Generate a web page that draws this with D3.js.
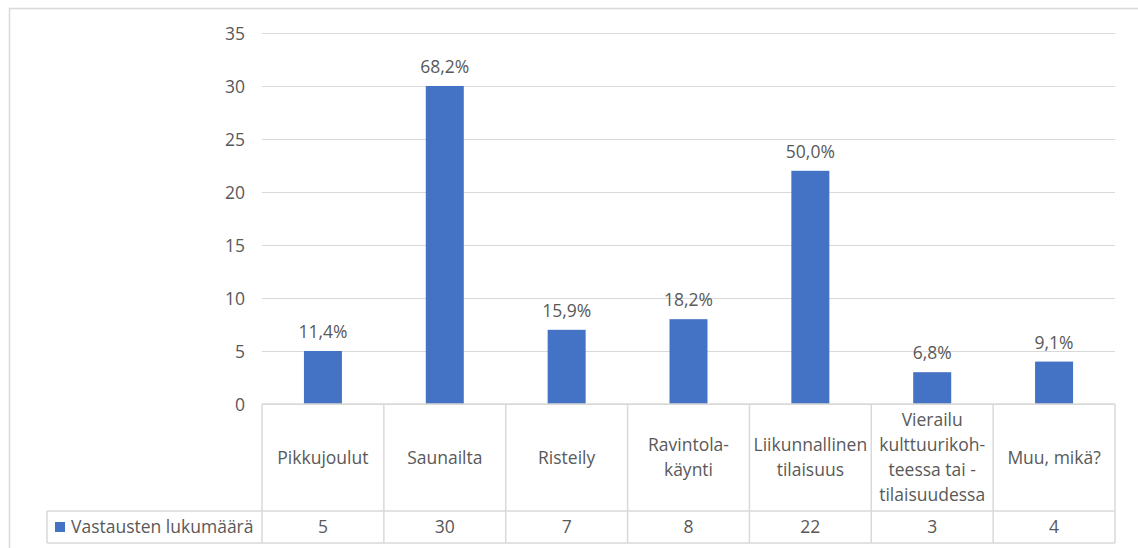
<!DOCTYPE html>
<html>
<head>
<meta charset="utf-8">
<script src="https://cdn.jsdelivr.net/npm/d3@7"></script>
<style>
  html, body { margin: 0; padding: 0; background: #fff; }
  svg text { font-family: "Open Sans", "Noto Sans", sans-serif; fill: #595959; }
</style>
</head>
<body>
<svg id="chart" width="1138" height="548"></svg>
<script>
// Column values, one per activity
const categories = [
  ["Pikkujoulut"],
  ["Saunailta"],
  ["Risteily"],
  ["Ravintola-", "käynti"],
  ["Liikunnallinen", "tilaisuus"],
  ["Vierailu", "kulttuurikoh-", "teessa tai -", "tilaisuudessa"],
  ["Muu, mikä?"]
];
const counts = [5, 30, 7, 8, 22, 3, 4];
const percentLabels = ["11,4%", "68,2%", "15,9%", "18,2%", "50,0%", "6,8%", "9,1%"];
const yTicks = [0, 5, 10, 15, 20, 25, 30, 35];
const seriesName = "Vastausten lukumäärä";

const svg = d3.select("#chart");
const grid = "#d9d9d9";
const barColor = "#4472c4";
const fs = 17.5;

// Outer chart frame
svg.append("rect")
  .attr("x", 9.5).attr("y", 8.5)
  .attr("width", 1140).attr("height", 545)
  .attr("fill", "none").attr("stroke", grid).attr("stroke-width", 1.5);

const plot = { left: 262, right: 1115, top: 33, bottom: 404 };
const tableTop = plot.bottom, catRowBottom = 511, tableBottom = 543, legendLeft = 47;

const x = d3.scaleBand()
  .domain(d3.range(categories.length))
  .range([plot.left, plot.right])
  .paddingInner(0).paddingOuter(0);

const y = d3.scaleLinear().domain([0, 35]).range([plot.bottom, plot.top]);

// Horizontal gridlines
svg.append("g").selectAll("line").data(yTicks).join("line")
  .attr("x1", plot.left).attr("x2", plot.right)
  .attr("y1", d => Math.round(y(d)) + 0.5).attr("y2", d => Math.round(y(d)) + 0.5)
  .attr("stroke", grid).attr("stroke-width", 1.2);

// Y axis labels
const yAxis = d3.axisLeft(y).tickValues(yTicks).tickSize(0).tickPadding(0);
const yg = svg.append("g").attr("transform", `translate(${245},0)`).call(yAxis);
yg.select(".domain").remove();
yg.selectAll("text")
  .attr("font-size", fs)
  .attr("font-family", "'Open Sans', sans-serif")
  .attr("fill", "#595959")
  .attr("dy", "0.35em");

// Bars
const barW = 38;
svg.append("g").selectAll("rect").data(counts).join("rect")
  .attr("x", (d, i) => x(i) + x.bandwidth() / 2 - barW / 2)
  .attr("width", barW)
  .attr("y", d => y(d))
  .attr("height", d => y(0) - y(d))
  .attr("fill", barColor);

// Percentage labels above bars
svg.append("g").selectAll("text").data(counts).join("text")
  .attr("x", (d, i) => x(i) + x.bandwidth() / 2)
  .attr("y", d => y(d) - 19)
  .attr("dy", "0.35em")
  .attr("text-anchor", "middle")
  .attr("font-size", fs)
  .text((d, i) => percentLabels[i]);

// Data table grid
const tg = svg.append("g").attr("stroke", grid).attr("stroke-width", 1.5);
const cols = d3.range(categories.length + 1).map(i => i < categories.length ? x(i) : plot.right);
cols.forEach(cx => {
  tg.append("line").attr("x1", cx).attr("x2", cx).attr("y1", tableTop).attr("y2", tableBottom);
});
tg.append("line").attr("x1", plot.left).attr("x2", plot.right).attr("y1", tableTop).attr("y2", tableTop);
tg.append("line").attr("x1", legendLeft).attr("x2", plot.right).attr("y1", catRowBottom).attr("y2", catRowBottom);
tg.append("line").attr("x1", legendLeft).attr("x2", plot.right).attr("y1", tableBottom).attr("y2", tableBottom);
tg.append("line").attr("x1", legendLeft).attr("x2", legendLeft).attr("y1", catRowBottom).attr("y2", tableBottom);

// Category names inside the table header row
const lineH = 25;
const catMid = (tableTop + catRowBottom) / 2;
categories.forEach((lines, i) => {
  const t = svg.append("text")
    .attr("x", x(i) + x.bandwidth() / 2)
    .attr("text-anchor", "middle")
    .attr("font-size", fs);
  const y0 = catMid - (lines.length - 1) * lineH / 2;
  lines.forEach((ln, k) => {
    t.append("tspan")
      .attr("x", x(i) + x.bandwidth() / 2)
      .attr("y", y0 + k * lineH)
      .attr("dy", "0.35em")
      .text(ln);
  });
});

// Series legend key and name
const valMid = (catRowBottom + tableBottom) / 2;
svg.append("rect")
  .attr("x", 55).attr("y", valMid - 5).attr("width", 10).attr("height", 10)
  .attr("fill", barColor);
svg.append("text")
  .attr("x", 71).attr("y", valMid).attr("dy", "0.35em")
  .attr("font-size", fs)
  .text(seriesName);

// Count values row
svg.append("g").selectAll("text").data(counts).join("text")
  .attr("x", (d, i) => x(i) + x.bandwidth() / 2)
  .attr("y", valMid).attr("dy", "0.35em")
  .attr("text-anchor", "middle")
  .attr("font-size", fs)
  .text(d => d);
</script>
</body>
</html>
